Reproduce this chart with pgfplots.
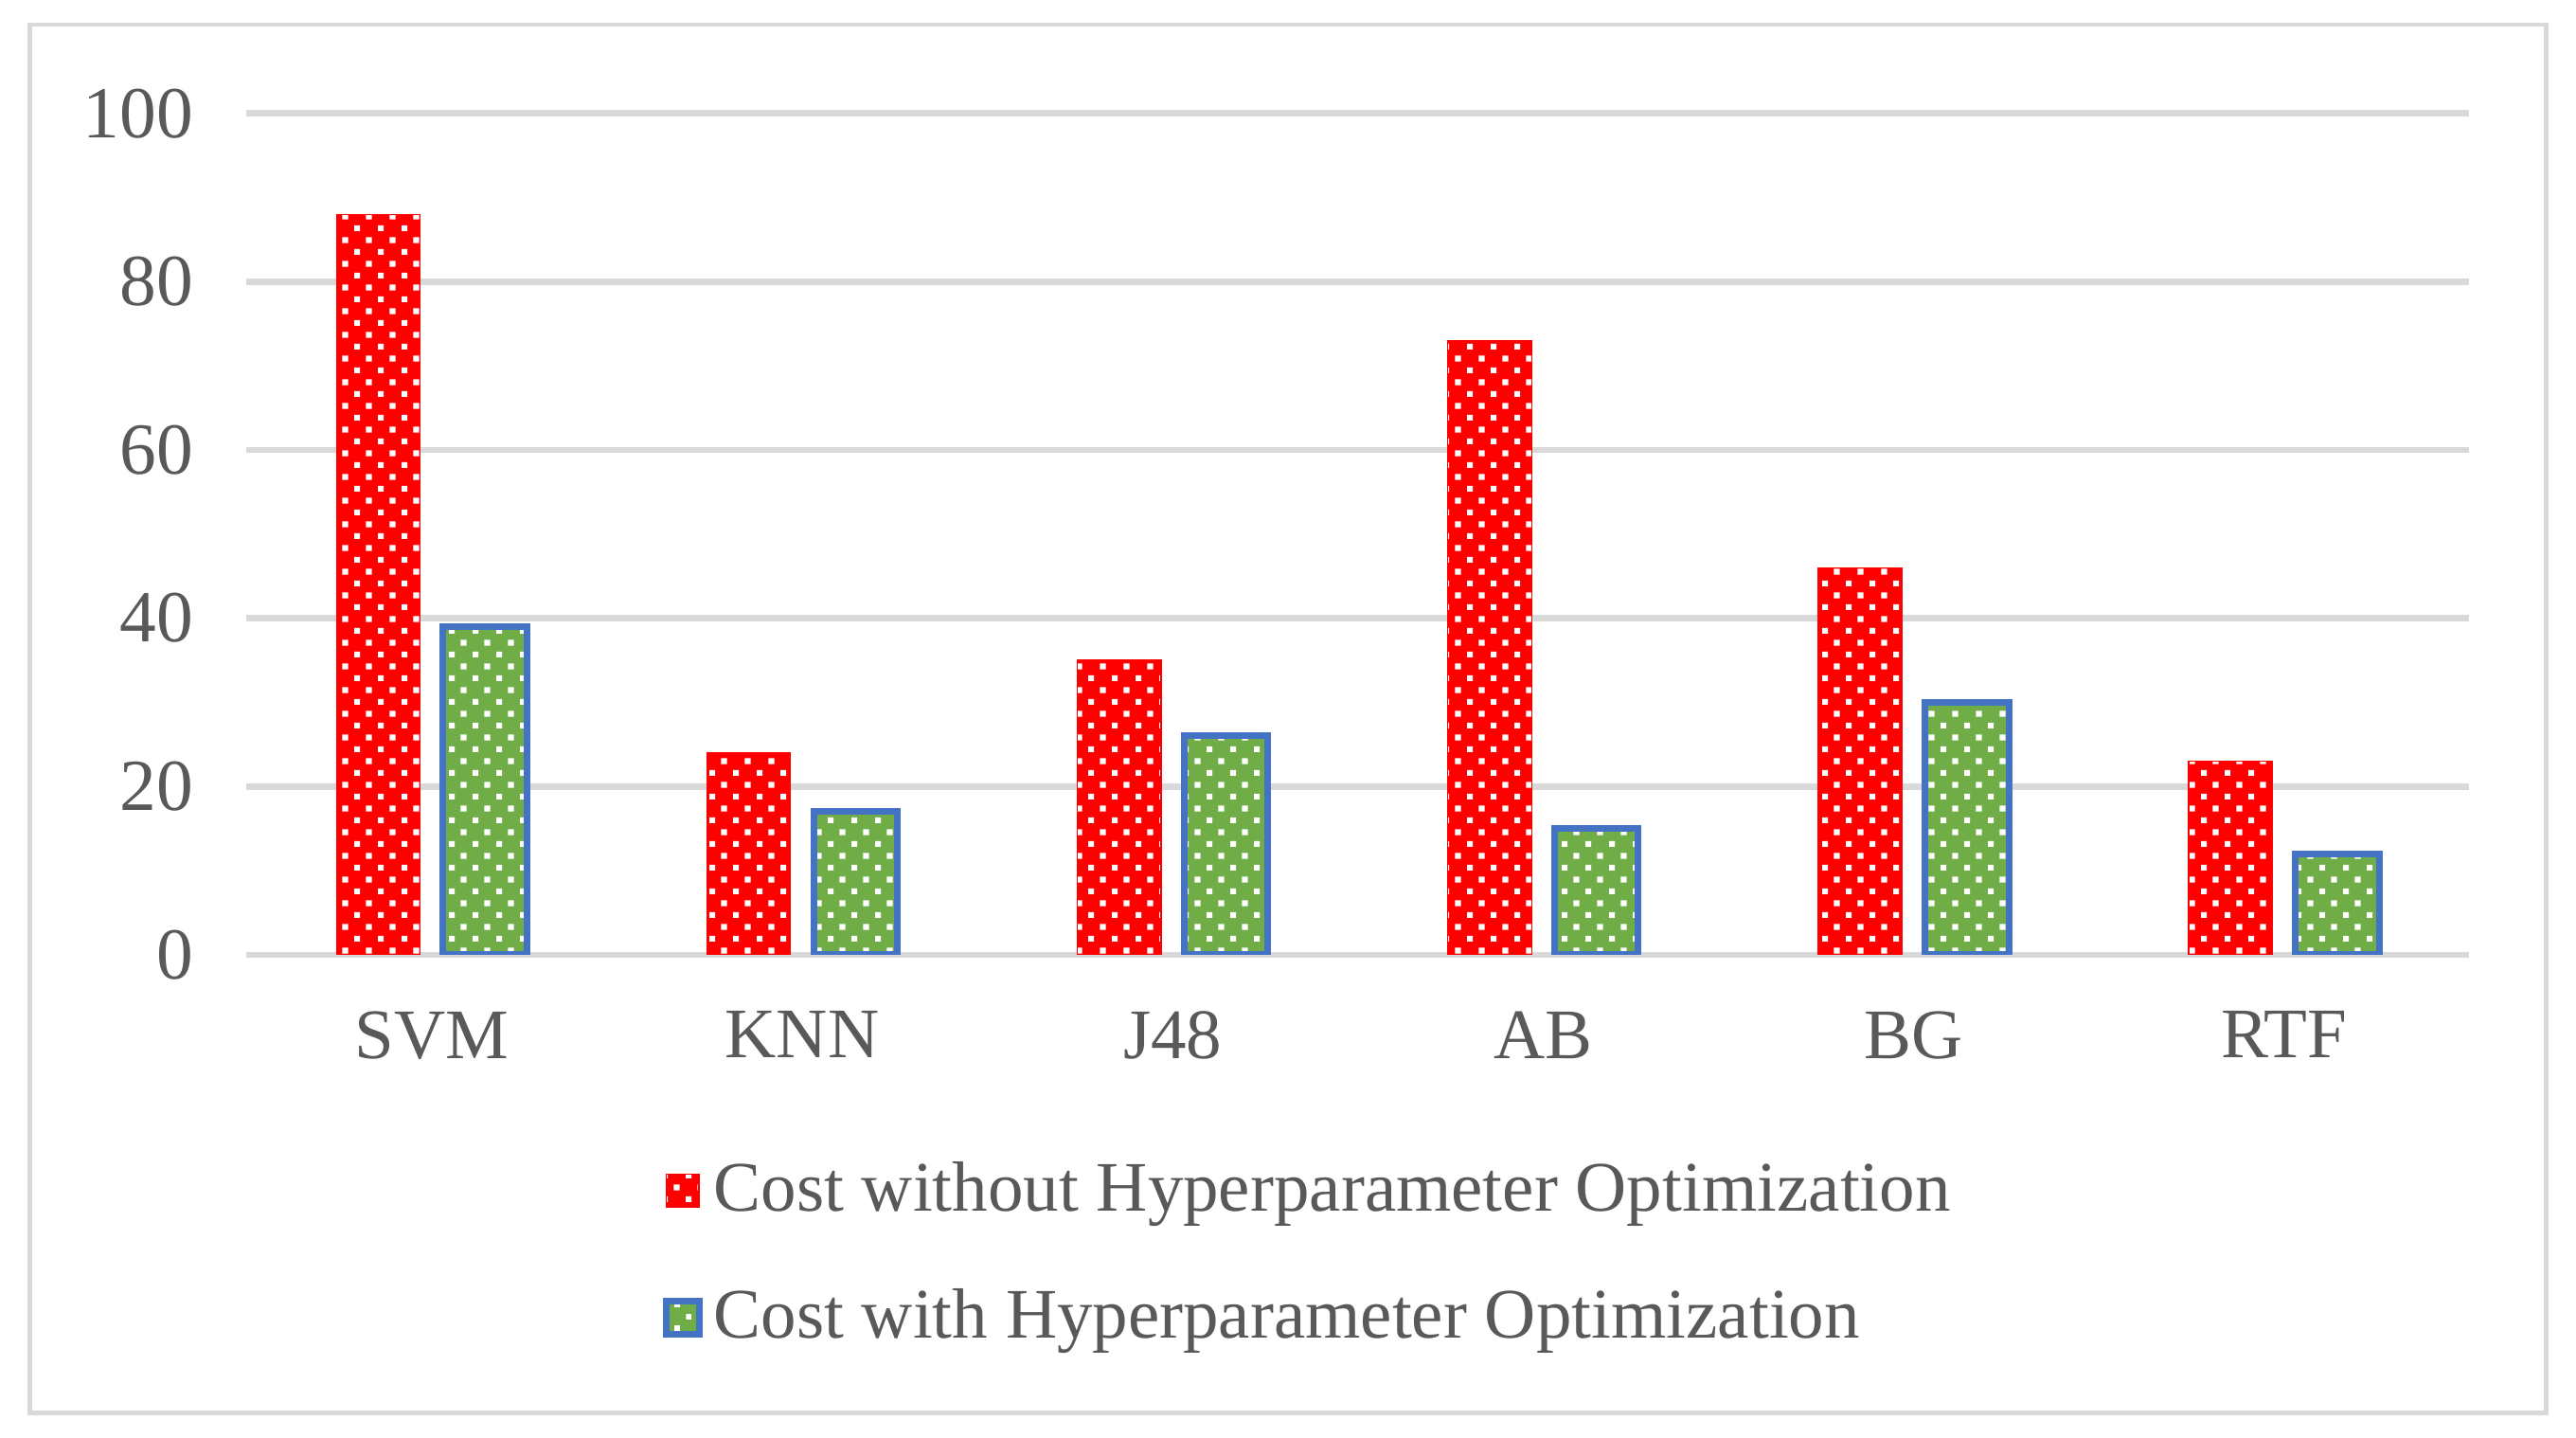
\documentclass[border=0pt]{standalone}
\usepackage{pgfplots}
\pgfplotsset{compat=1.18}
\usepackage{fontspec}
\setmainfont{Liberation Serif}
\usetikzlibrary{patterns.meta}
\definecolor{txtgray}{HTML}{595959}
\definecolor{gridgray}{HTML}{D9D9D9}
\definecolor{barred}{HTML}{FF0000}
\definecolor{bargreen}{HTML}{70AD47}
\definecolor{barblue}{HTML}{4472C4}
\tikzdeclarepattern{
  name=wdots,
  type=uncolored,
  bottom left={(0,0)}, top right={(1.44mm,1.44mm)},
  tile size={(1.44mm,1.44mm)},
  code={
    \fill (0,0) rectangle (0.35mm,0.35mm);
    \fill (0.72mm,0.72mm) rectangle (1.07mm,1.07mm);
  }
}
\begin{document}
\begin{tikzpicture}
\useasboundingbox (-15mm,-29.4mm) rectangle (141.8mm,58.1mm);
\draw[gridgray, line width=0.8pt] (-13.2mm,-27.9mm) rectangle (140.0mm,56.6mm);
\begin{axis}[
    scale only axis,
    width=135.3mm, height=51.2mm,
    xmin=-0.5, xmax=5.5,
    ymin=0, ymax=100,
    ytick={0,20,40,60,80,100},
    xtick={0,1,2,3,4,5},
    xticklabels={SVM,KNN,J48,AB,BG,RTF},
    axis line style={draw=none},
    major tick length=0pt,
    ymajorgrids=true,
    grid style={line width=1.1pt, color=gridgray},
    /pgf/number format/assume math mode=true,
    tick label style={text=txtgray},
    yticklabel style={font=\fontsize{12.7}{15}\selectfont, xshift=-2mm},
    xticklabel style={font=\fontsize{12.3}{15}\selectfont, yshift=-2.2mm},
    ybar,
    bar width=5.1mm,
    legend style={at={(axis description cs:0.179,-0.217)}, anchor=north west,
        draw=none, font=\fontsize{12.3}{14.5}\selectfont, text=txtgray,
        row sep=2.8mm, cells={anchor=west}},
    legend cell align=left,
    legend image code/.code={\draw[#1] (0mm,-1mm) rectangle (2mm,1mm);},
]
\addplot[bar shift=-3.25mm, draw=barred, line width=0.2pt, fill=barred,
    postaction={pattern={wdots}, pattern color=white}]
    coordinates {(0,88) (1,24) (2,35) (3,73) (4,46) (5,23)};
\addplot[bar shift=3.25mm, draw=barblue, line width=1.15pt, fill=bargreen,
    postaction={pattern={wdots}, pattern color=white}]
    coordinates {(0,39) (1,17) (2,26) (3,15) (4,30) (5,12)};
\legend{Cost without Hyperparameter Optimization, Cost with Hyperparameter Optimization}
\end{axis}
\end{tikzpicture}
\end{document}
